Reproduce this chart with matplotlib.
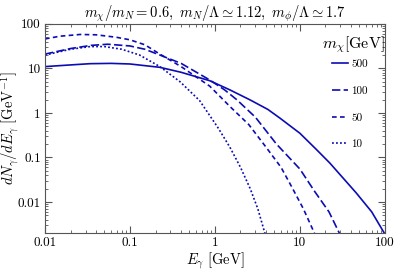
import numpy as np
import matplotlib
matplotlib.use('Agg')
import matplotlib.pyplot as plt

plt.rcParams['font.family'] = 'serif'
plt.rcParams['font.serif'] = ['cmr10', 'DejaVu Serif']
plt.rcParams['mathtext.fontset'] = 'cm'
plt.rcParams['axes.formatter.use_mathtext'] = True

# m_chi = 500 GeV
e_500 = [0.01, 0.02, 0.034, 0.06, 0.1, 0.225, 0.4, 0.87, 1.5, 2.6, 4.2, 5.8, 10, 15.7, 22.5, 46, 70, 100]
n_500 = [11, 12, 12.8, 13, 12.6, 10.6, 8.2, 5.3, 3.3, 1.96, 1.2, 0.77, 0.35, 0.15, 0.075, 0.016, 0.006, 0.0019]
# m_chi = 100 GeV
e_100 = [0.01, 0.02, 0.035, 0.055, 0.1, 0.15, 0.225, 0.4, 0.87, 1.3, 1.8, 3, 5.3, 10, 15, 22, 29.5]
n_100 = [21, 28, 33, 35, 32, 27, 20, 13, 5.5, 3.3, 2.0, 0.8, 0.2, 0.055, 0.017, 0.006, 0.0019]
# m_chi = 50 GeV
e_50 = [0.01, 0.015, 0.026, 0.04, 0.07, 0.1, 0.15, 0.225, 0.4, 0.87, 1.5, 2.5, 4, 6, 8, 11, 15]
n_50 = [46, 53, 58, 57, 50, 44, 34, 21, 11, 4.0, 1.4, 0.55, 0.17, 0.06, 0.022, 0.007, 0.0019]
# m_chi = 10 GeV
e_10 = [0.01, 0.02, 0.034, 0.05, 0.08, 0.13, 0.225, 0.39, 0.66, 1.1, 1.5, 2, 2.6, 3.2, 3.9]
n_10 = [20, 27, 31, 31, 27, 20, 11, 5, 1.9, 0.45, 0.17, 0.06, 0.02, 0.007, 0.0019]

tick_vals = [0.01, 0.1, 1, 10, 100]
tick_labels = ['0.01', '0.1', '1', '10', '100']

col = '#0c0cb4'
fig = plt.figure(figsize=(3.98, 2.72), dpi=100)
ax = fig.add_axes([0.113, 0.143, 0.854, 0.769])

ax.plot(e_500, n_500, color=col, lw=1.2, label='500')
ax.plot(e_100, n_100, color=col, lw=1.2, dashes=(5, 2), label='100')
ax.plot(e_50, n_50, color=col, lw=1.2, dashes=(2.8, 2), label='50')
ax.plot(e_10, n_10, color=col, lw=1.2, dashes=(1.1, 1.3), label='10')

ax.set_xscale('log')
ax.set_yscale('log')
ax.set_xlim(0.01, 100)
ax.set_ylim(0.002, 100)
ax.set_xticks(tick_vals)
ax.set_xticklabels(tick_labels)
ax.set_yticks(tick_vals)
ax.set_yticklabels(tick_labels)
ax.tick_params(which='both', direction='in', top=True, right=True, labelsize=9.5, color='#555555', pad=3)
ax.tick_params(which='major', length=5)
ax.tick_params(which='minor', length=2.5)
for s in ax.spines.values():
    s.set_color('#555555')

ax.set_xlabel(r'$E_\gamma\ $[GeV]', fontsize=10.5, labelpad=0)
ax.set_ylabel(r'$dN_\gamma/dE_\gamma\ [\mathrm{GeV}^{-1}]$', fontsize=10.5, labelpad=0)
ax.xaxis.set_label_coords(0.5, -0.085)
ax.yaxis.set_label_coords(-0.07, 0.5)
ax.set_title(r'$m_\chi/m_N = 0.6,\ m_N/\Lambda \simeq 1.12,\ m_\phi/\Lambda \simeq 1.7$', fontsize=10.5, pad=3)

ax.text(0.906, 0.9, r'$m_\chi$[GeV]', transform=ax.transAxes, ha='center', va='center', fontsize=11.5)
leg = ax.legend(loc='upper left', bbox_to_anchor=(0.845, 0.83),
                frameon=False, fontsize=8, handlelength=1.4,
                handletextpad=0.3, labelspacing=1.52,
                borderpad=0, borderaxespad=0)

fig.savefig('out.png', dpi=100)
